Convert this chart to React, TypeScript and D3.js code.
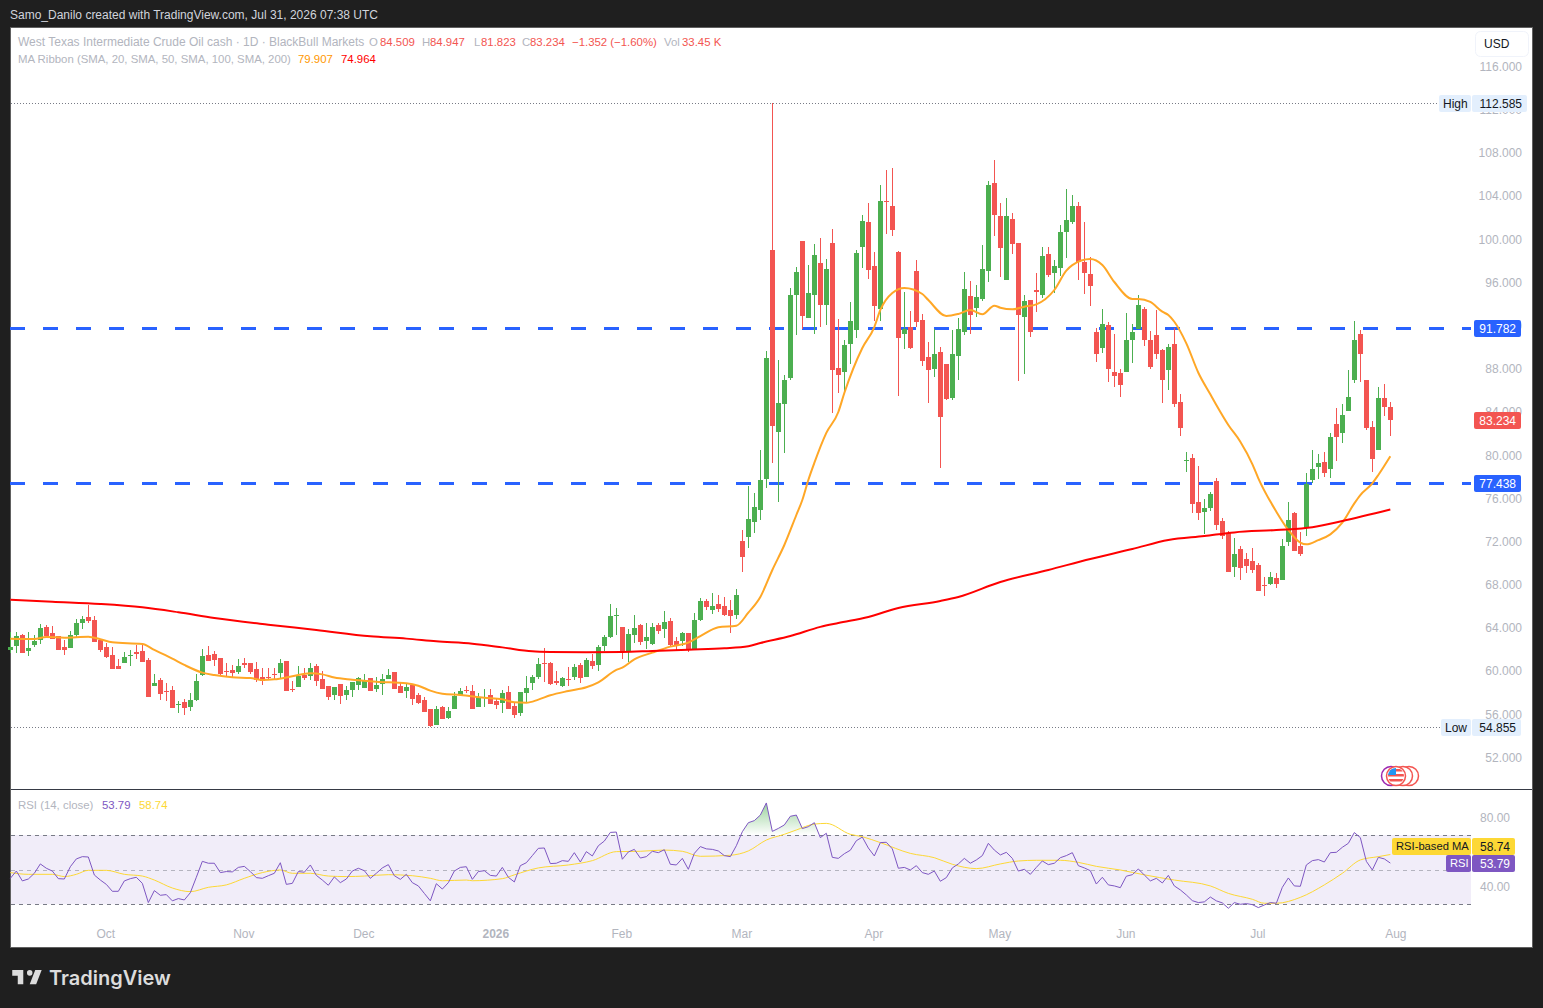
import React, { useRef, useEffect } from 'react';
import * as d3 from 'd3';

type Ohlc = [number, number, number, number];

// open, high, low, close per month
const candlesSep: Ohlc[] = [
  [61.96,63.66,61.65,62.24],[62.33,63.66,61.71,63.25],[63.35,63.44,61.68,61.71],[61.87,63.63,61.43,62.14],
  [62.42,63.35,62.27,62.79],[62.88,64.37,62.51,64.00],[64.09,64.27,63.19,63.25],[63.53,64.18,62.98,62.98],
  [63.25,63.25,61.96,61.96],[62.24,62.88,61.50,61.96],[62.14,63.72,62.14,63.35],[63.35,64.83,63.16,64.46],
  [64.46,65.11,63.90,64.83],[65.01,66.13,64.46,64.64],[64.74,65.11,62.70,62.70],[62.88,62.98,61.77,61.96],
];
const candlesOct: Ohlc[] = [
  [62.24,62.61,61.22,61.31],[61.50,62.24,60.20,60.20],[60.48,61.12,60.20,60.20],[60.75,61.77,60.75,61.31],
  [61.43,61.96,60.48,61.50],[61.77,62.42,61.12,61.59],[61.87,62.42,60.85,60.85],[61.03,61.22,57.60,57.60],
  [58.62,59.74,58.62,58.90],[59.18,59.36,57.33,57.88],[58.16,58.90,57.23,58.10],[58.25,58.62,56.59,56.59],
  [56.89,57.23,56.12,56.96],[57.14,57.42,55.94,56.59],[56.68,57.97,56.31,57.33],[57.33,59.74,57.23,59.09],
  [59.64,62.05,59.55,61.40],[61.50,62.33,60.94,60.94],[61.59,61.87,60.48,61.03],[61.22,61.22,59.55,59.74],
  [60.01,60.75,59.46,59.95],[60.11,60.57,59.46,59.83],[59.92,61.12,59.74,60.48],
];
const candlesNov: Ohlc[] = [
  [60.75,61.22,60.29,60.57],[60.75,60.75,59.74,59.92],[60.20,60.85,58.99,59.18],[59.46,60.29,58.72,59.09],
  [59.46,60.29,59.18,59.40],[59.74,60.29,59.27,59.67],[59.83,61.12,59.36,60.75],[60.94,60.94,58.16,58.16],
  [58.35,59.09,58.07,58.28],[58.53,60.48,58.53,59.55],[59.64,60.29,59.18,59.36],[59.55,60.75,59.18,60.29],
  [60.48,60.66,58.62,59.09],[59.27,60.01,58.35,58.35],[58.62,58.62,57.33,57.60],[57.79,58.53,57.33,58.53],
  [58.81,58.81,56.96,57.70],[57.79,58.62,57.33,58.25],[58.25,58.99,57.60,58.99],[58.72,59.46,58.25,59.36],
];
const candlesDec: Ohlc[] = [
  [58.44,59.74,58.44,59.18],[59.36,59.36,58.16,58.16],[58.35,59.46,58.07,58.72],[58.81,59.74,57.79,59.27],
  [59.27,60.20,59.27,59.64],[59.92,59.92,58.35,58.35],[58.62,58.90,57.97,57.97],[58.16,58.81,57.51,58.53],
  [58.72,58.72,56.86,57.42],[57.79,57.97,56.96,57.05],[57.33,57.60,56.22,56.22],[56.49,56.49,54.855,54.90],
  [55.01,56.77,55.01,56.49],[56.68,56.77,55.57,55.57],[55.66,56.68,55.57,56.31],[56.49,58.07,56.49,57.70],
  [57.76,58.44,57.70,58.16],[58.25,58.62,57.97,58.19],[58.16,58.72,56.49,56.49],[56.68,57.97,56.68,57.51],
  [57.51,58.35,56.68,57.57],[57.79,58.35,56.96,56.96],
];
const candlesJan: Ohlc[] = [
  [57.23,57.51,56.49,56.86],[57.05,58.25,56.12,57.97],[58.07,58.62,56.49,56.49],[56.77,57.14,55.66,55.94],
  [56.12,58.07,55.84,58.07],[57.97,59.55,57.14,58.44],[58.90,59.64,58.25,59.46],[59.46,61.22,59.27,60.66],
  [60.79,62.14,58.99,60.72],[60.75,60.85,58.72,58.81],[59.09,60.01,58.72,58.90],[58.62,59.46,58.53,59.36],
  [59.27,60.38,58.62,59.21],[59.46,60.66,59.18,60.38],[60.57,60.75,58.90,59.36],[59.46,61.22,59.46,61.03],
  [60.94,61.59,60.20,60.48],[60.57,62.42,60.01,62.24],[62.33,63.35,61.87,63.16],[63.16,66.22,63.07,65.11],
  [65.14,65.85,63.35,65.20],
];
const candlesFeb: Ohlc[] = [
  [64.09,64.09,61.12,61.87],[61.87,63.90,60.85,63.44],[63.35,65.20,62.61,64.00],[64.27,64.37,62.42,62.70],
  [62.79,64.46,62.05,63.16],[62.51,64.46,62.42,64.09],[64.27,64.46,63.44,63.72],[63.90,65.57,63.07,64.55],
  [64.64,64.92,62.24,62.42],[62.79,63.16,61.96,62.42],[62.79,63.63,62.33,63.53],[63.53,63.53,61.77,61.96],
  [62.05,65.39,61.96,64.74],[64.74,66.77,64.64,66.50],[66.50,66.68,65.66,65.94],[65.66,67.24,65.29,66.03],
  [66.22,67.05,65.48,65.76],[66.03,66.87,65.11,65.20],[65.66,66.59,63.53,65.11],[65.20,67.61,64.83,67.05],
];
const candlesMar: Ohlc[] = [
  [72.05,73.07,69.18,70.57],[72.42,77.15,71.40,74.09],[73.81,76.50,72.79,75.20],[74.92,80.48,74.00,77.70],
  [77.79,89.65,76.96,89.00],[99.00,112.585,79.27,82.70],[82.15,88.82,75.66,84.83],[84.74,87.43,80.20,86.96],
  [87.15,95.48,86.96,94.84],[94.84,97.43,91.13,96.97],[99.84,99.84,91.69,92.89],[92.70,97.61,92.70,95.02],
  [94.84,99.56,91.22,98.54],[97.79,100.12,91.87,93.91],[93.91,98.17,92.06,97.24],[99.65,100.95,83.91,87.89],
  [88.07,92.61,85.76,87.43],[87.70,90.67,85.76,90.20],[90.30,94.19,88.45,92.43],[91.59,99.00,90.85,98.72],
  [99.28,102.25,97.34,101.69],[101.60,103.36,96.32,97.15],
];
const candlesApr: Ohlc[] = [
  [97.52,98.82,92.43,93.82],[93.54,105.02,92.43,103.54],[103.54,106.41,100.48,103.48],[103.08,106.60,100.30,100.86],
  [98.82,98.91,85.48,90.85],[91.22,95.11,89.83,91.69],[91.87,93.35,89.83,89.93],[97.06,98.08,91.87,92.33],
  [92.52,93.08,88.26,88.72],[89.09,90.48,84.83,87.89],[87.98,91.69,87.24,89.37],[89.56,90.02,78.81,83.53],
  [88.45,88.45,85.11,85.20],[85.30,91.59,85.11,89.37],[89.19,92.70,86.96,91.69],[91.41,96.97,91.13,95.39],
  [94.74,96.13,91.22,92.98],[93.63,95.76,92.80,94.65],[94.47,99.47,94.28,97.24],[97.06,105.39,96.04,105.02],
  [105.21,107.34,100.30,102.25],
];
const candlesMay: Ohlc[] = [
  [102.15,103.36,96.50,99.19],[96.23,103.82,96.23,102.15],[101.87,102.43,98.63,99.56],[99.65,99.65,86.87,92.98],
  [92.80,94.84,87.52,94.28],[94.37,94.37,90.95,91.41],[95.30,96.87,93.26,95.11],[94.84,99.28,94.56,98.45],
  [98.63,99.28,96.50,96.69],[96.87,98.08,95.02,97.52],[97.34,101.32,96.60,100.67],[100.67,104.65,98.26,101.78],
  [101.60,104.10,101.41,103.08],[103.08,103.45,96.23,97.89],[97.89,101.60,94.93,96.87],[96.78,98.36,93.82,95.67],
  [91.41,91.78,88.63,89.37],[89.93,93.54,89.47,92.15],[92.06,92.33,86.78,87.98],[87.70,91.22,86.31,87.33],
  [87.61,87.98,85.39,86.50],
];
const candlesJun: Ohlc[] = [
  [87.70,93.17,87.70,90.67],[90.67,92.15,88.54,91.41],[91.69,94.84,91.69,93.91],[93.54,93.72,90.11,90.67],
  [90.67,91.50,87.98,88.17],[91.13,93.45,88.91,89.37],[89.74,89.83,84.83,86.96],[87.89,90.30,86.03,90.02],
  [90.30,91.78,84.46,84.74],[84.92,85.67,81.78,82.52],[79.49,80.30,78.44,79.55],[79.74,80.11,74.65,75.48],
  [75.66,79.00,74.00,74.65],[74.74,75.94,72.70,75.11],[75.11,76.59,74.83,76.41],[77.61,77.89,73.07,73.53],
  [73.90,74.18,72.24,72.51],[72.79,72.98,69.18,69.18],[69.64,72.33,68.72,70.85],[71.31,71.59,68.44,69.55],
  [70.38,70.94,69.09,69.74],[70.20,71.40,69.09,69.37],
];
const candlesJul: Ohlc[] = [
  [69.83,70.02,67.42,67.42],[67.97,68.72,66.96,67.91],[68.07,69.18,67.97,68.72],[68.62,69.09,67.70,68.07],
  [68.44,72.24,68.44,71.59],[71.96,75.66,71.59,74.00],[74.65,74.74,71.12,71.12],[71.59,72.89,70.66,70.85],
  [73.26,78.35,72.51,77.33],[77.70,80.48,77.42,78.72],[78.91,80.11,77.80,79.28],[79.37,80.30,77.98,78.35],
  [78.72,82.06,77.89,81.68],[82.89,84.37,79.46,81.68],[82.06,84.74,81.13,83.72],[84.09,87.89,84.09,85.39],
  [86.97,92.43,86.69,90.67],[91.22,91.60,86.78,89.37],[86.97,86.97,82.33,82.52],[82.61,83.17,78.44,79.65],
  [80.48,86.32,80.48,85.30],[85.30,86.59,83.63,84.46],[84.509,84.947,81.823,83.234],
];
const candles: Ohlc[] = [...candlesSep, ...candlesOct, ...candlesNov, ...candlesDec, ...candlesJan, ...candlesFeb,
  ...candlesMar, ...candlesApr, ...candlesMay, ...candlesJun, ...candlesJul];

// bar number, price
const ma50: [number, number][] = [
  [0,63.0],[4,62.97],[6,63.16],[9,63.10],[13,63.19],[15,62.95],[17,62.67],[22,62.51],[24,61.96],[27,61.15],[29,60.57],
  [32,59.86],[34,59.64],[37,59.43],[40,59.36],[42,59.18],[44,59.24],[47,59.52],[50,59.80],[52,59.70],[54,59.40],[57,59.21],
  [61,59.02],[66,58.87],[68,58.65],[70,58.19],[72,57.91],[75,57.79],[79,57.54],[82,57.39],[84,57.11],[86,57.08],[88,57.36],
  [90,57.76],[93,58.16],[96,58.50],[98,58.96],[101,60.11],[102,60.32],[104,61.09],[107,61.71],[110,62.27],[113,62.64],
  [115,63.25],[118,64.06],[121,64.21],[123,65.42],[125,66.87],[127,69.37],[129,71.68],[131,74.46],[132,75.85],[133,77.70],
  [134,79.28],[136,82.06],[138,84.00],[139,85.76],[142,89.93],[144,91.87],[145,93.45],[147,95.03],[149,95.49],[152,94.93],
  [153,94.37],[156,92.89],[158,93.08],[160,93.45],[162,93.05],[164,93.85],[165,93.66],[167,93.51],[169,93.75],[171,93.97],
  [174,95.30],[176,97.09],[177,97.61],[180,98.17],[182,97.61],[184,96.04],[187,94.47],[188,94.47],[190,94.19],[192,93.29],
  [193,92.98],[194,92.36],[196,90.36],[198,87.64],[200,85.64],[201,84.65],[203,82.80],[205,81.25],[207,79.18],[208,77.86],
  [211,74.77],[213,73.07],[215,71.90],[216,71.74],[218,72.14],[220,72.67],[222,73.75],[224,75.54],[225,76.31],[227,77.39],
  [228,78.17],[230,79.907],
];
const ma200: [number, number][] = [
  [0,66.62],[7,66.43],[15,66.22],[22,65.91],[28,65.45],[34,64.92],[43,64.30],[51,63.81],[60,63.22],[66,63.01],[71,62.76],
  [77,62.54],[82,62.20],[87,61.83],[90,61.77],[96,61.74],[102,61.77],[107,61.87],[113,61.99],[119,62.11],[123,62.30],
  [125,62.60],[130,63.25],[135,64.10],[138,64.46],[143,65.02],[148,65.85],[155,66.50],[158,66.87],[165,68.26],[173,69.37],
  [180,70.39],[187,71.31],[193,72.14],[199,72.51],[204,72.85],[211,73.07],[217,73.32],[222,73.90],[230,74.964],
];

const levels = [91.782, 77.438];
const priceTicks = [116, 112, 108, 104, 100, 96, 92, 88, 84, 80, 76, 72, 68, 64, 60, 56, 52];
const monthTicks = [16, 39, 59, 81, 102, 122, 144, 165, 186, 208, 231];
const monthLabels = ['Oct', 'Nov', 'Dec', '2026', 'Feb', 'Mar', 'Apr', 'May', 'Jun', 'Jul', 'Aug'];

const rsi = [
  45.0,49.2,43.5,44.6,47.9,53.3,50.8,49.2,44.8,44.6,51.7,56.2,57.5,57.3,46.9,44.0,41.5,37.5,37.5,43.5,44.8,45.6,42.1,31.0,
  37.9,35.2,35.6,32.0,33.3,32.5,36.7,45.6,54.8,53.7,53.7,48.3,48.9,48.7,51.3,51.9,48.9,45.4,45.0,46.5,47.9,54.0,41.5,42.1,
  48.9,48.5,52.7,46.7,44.0,41.0,45.8,42.5,44.6,49.2,50.8,49.4,45.0,47.9,51.0,52.9,46.5,44.4,47.3,42.5,40.6,36.3,32.0,41.9,
  38.8,42.5,49.2,51.3,51.7,44.4,48.9,49.4,46.7,46.3,51.3,45.6,42.9,52.3,54.0,58.1,62.3,62.5,53.5,53.7,55.2,54.8,59.8,54.4,
  60.4,57.9,63.8,66.5,71.5,71.7,56.0,60.2,61.7,56.7,57.5,60.6,59.8,61.5,53.1,52.7,56.5,50.2,59.4,63.3,62.0,61.7,60.8,58.1,
  57.5,63.8,71.9,77.1,78.3,81.5,88.5,72.1,73.8,75.8,80.8,81.5,73.7,74.8,77.1,68.5,71.0,57.1,56.5,59.2,61.2,66.7,68.8,62.5,
  57.9,65.6,65.8,62.0,50.8,51.3,49.8,52.3,48.3,47.3,49.2,43.3,45.4,51.0,53.3,56.5,53.7,55.6,58.1,65.2,61.3,58.5,60.0,56.5,
  49.2,50.2,47.3,51.3,55.0,52.9,53.7,56.9,58.1,59.8,52.3,51.0,49.4,41.7,45.6,41.2,40.6,39.6,46.2,47.1,50.4,46.9,43.5,45.0,
  42.3,46.7,40.6,38.3,35.4,32.1,31.0,31.4,34.2,32.0,30.8,27.7,31.0,30.0,30.4,29.8,28.1,29.6,31.0,30.6,39.8,45.2,40.6,40.4,
  52.7,55.2,55.8,54.4,59.8,60.0,62.9,65.2,71.4,68.5,54.8,49.8,57.1,56.2,53.79,
];
const rsiMa: [number, number][] = [
  [0,48.3],[3,47.3],[7,47.3],[9,46.0],[11,47.3],[13,49.6],[16,49.6],[19,47.3],[22,46.3],[24,44.0],[27,39.4],[30,37.3],
  [33,39.8],[36,41.2],[39,45.0],[42,48.3],[45,49.8],[47,47.9],[50,47.9],[53,46.3],[56,46.0],[59,46.3],[63,47.1],[67,46.5],
  [70,45.0],[72,43.6],[76,44.0],[77,43.6],[82,44.8],[84,47.0],[88,51.0],[93,52.7],[97,55.2],[101,60.4],[105,60.6],[109,61.3],
  [112,60.6],[115,57.7],[120,58.3],[123,60.8],[126,67.1],[129,70.4],[131,72.9],[134,76.3],[136,76.7],[140,70.4],[142,69.0],
  [145,65.6],[150,59.4],[154,56.9],[157,53.1],[161,50.6],[165,53.3],[168,55.0],[171,55.4],[175,55.4],[178,54.2],[181,51.9],
  [185,49.8],[189,47.0],[194,44.0],[200,40.6],[203,36.3],[207,32.9],[209,30.6],[211,30.6],[215,34.0],[219,41.2],[222,47.9],
  [225,55.6],[228,57.5],[230,58.74],
];
const rsiTicks = [80, 40];
const rsiBands = [70, 50, 30];

const RED = '#f35551';
const GREEN = '#4caf50';
const BLUE = '#2962ff';
const GREY = '#b2b5be';
const FONT = '"Liberation Sans", Arial, sans-serif';

const legendRows: [string, number, number, string, number][] = [
  ['Samo_Danilo created with TradingView.com, Jul 31, 2026 07:38 UTC', 10, 15, '#d1d4dc', 12],
  ['West Texas Intermediate Crude Oil cash · 1D · BlackBull Markets', 18, 42, GREY, 12],
  ['O', 369, 42, GREY, 11.4], ['84.509', 380, 42, RED, 11.4],
  ['H', 422, 42, GREY, 11.4], ['84.947', 430, 42, RED, 11.4],
  ['L', 474, 42, GREY, 11.4], ['81.823', 481, 42, RED, 11.4],
  ['C', 522, 42, GREY, 11.4], ['83.234', 530, 42, RED, 11.4],
  ['−1.352 (−1.60%)', 572, 42, RED, 11.4],
  ['Vol', 664, 42, GREY, 11.4], ['33.45 K', 682, 42, RED, 11.4],
  ['MA Ribbon (SMA, 20, SMA, 50, SMA, 100, SMA, 200)', 18, 59, GREY, 11.4],
  ['79.907', 298, 59, '#ff9800', 11.4], ['74.964', 341, 59, '#ff0000', 11.4],
  ['RSI (14, close)', 18, 805, GREY, 11.4],
  ['53.79', 102, 805, '#7e57c2', 11.4], ['58.74', 139, 805, '#fdd835', 11.4],
];

export default function App() {
  const ref = useRef<SVGSVGElement | null>(null);

  useEffect(() => {
    if (!ref.current) return;
    const svg = d3.select(ref.current);
    svg.selectAll('*').remove();

    const x = d3.scaleLinear().domain([0, 230]).range([10.33, 1390.33]);
    const y = d3.scaleLinear().domain([116, 52]).range([66.5, 757.5]);
    const yRsi = d3.scaleLinear().domain([70, 30]).range([835, 904.3]);
    const plotRight = 1471;

    svg.append('rect').attr('width', 1543).attr('height', 1008).attr('fill', '#1f1f1f');
    svg.append('rect').attr('x', 10.5).attr('y', 27.5).attr('width', 1522).attr('height', 920)
      .attr('fill', '#fff').attr('stroke', '#606060');

    // pane divider
    svg.append('rect').attr('x', 11).attr('y', 789).attr('width', 1521).attr('height', 1).attr('fill', '#363a45');

    // price axis
    const axisPrice = svg.append('g').attr('transform', 'translate(1522,0)')
      .call(d3.axisLeft(y).tickValues(priceTicks).tickFormat(d3.format('.3f') as any).tickSize(0).tickPadding(0));
    axisPrice.select('.domain').remove();

    // high / low dotted lines
    [112.585, 54.855].forEach(v => {
      svg.append('line').attr('x1', 11).attr('x2', 1440).attr('y1', Math.round(y(v)) + 0.5).attr('y2', Math.round(y(v)) + 0.5)
        .attr('stroke', '#787b86').attr('stroke-dasharray', '1 2');
    });

    // key levels
    svg.selectAll('.level').data(levels).enter().append('line')
      .attr('x1', 10).attr('x2', plotRight)
      .attr('y1', d => Math.round(y(d)) + 0.5).attr('y2', d => Math.round(y(d)) + 0.5)
      .attr('stroke', BLUE).attr('stroke-width', 3).attr('stroke-dasharray', '15 18');

    // candles
    const colour = (d: Ohlc) => (d[3] >= d[0] ? GREEN : RED);
    const bars = svg.append('g');
    bars.selectAll('.wick').data(candles).enter().append('rect')
      .attr('x', (_, i) => Math.floor(x(i))).attr('width', 1)
      .attr('y', d => Math.round(y(d[1])))
      .attr('height', d => Math.max(1, Math.round(y(d[2])) - Math.round(y(d[1]))))
      .attr('fill', colour);
    bars.selectAll('.body').data(candles).enter().append('rect')
      .attr('x', (_, i) => Math.floor(x(i)) - 2).attr('width', 5)
      .attr('y', d => Math.round(y(Math.max(d[0], d[3]))))
      .attr('height', d => Math.max(1, Math.round(y(Math.min(d[0], d[3]))) - Math.round(y(Math.max(d[0], d[3])))))
      .attr('fill', colour);

    // moving averages
    const maLine = d3.line<[number, number]>().x(d => x(d[0])).y(d => y(d[1])).curve(d3.curveMonotoneX);
    svg.append('path').attr('d', maLine(ma50)).attr('fill', 'none').attr('stroke', '#ffa726').attr('stroke-width', 2);
    svg.append('path').attr('d', maLine(ma200)).attr('fill', 'none').attr('stroke', '#ff0000').attr('stroke-width', 2);

    // RSI pane
    svg.append('rect').attr('x', 11).attr('width', plotRight - 11)
      .attr('y', yRsi(70)).attr('height', yRsi(30) - yRsi(70)).attr('fill', '#f1edf9');
    const defs = svg.append('defs');
    const grad = defs.append('linearGradient').attr('id', 'rsiOver').attr('gradientUnits', 'userSpaceOnUse')
      .attr('x1', 0).attr('x2', 0).attr('y1', yRsi(88)).attr('y2', yRsi(70));
    grad.append('stop').attr('offset', 0).attr('stop-color', GREEN).attr('stop-opacity', 0.55);
    grad.append('stop').attr('offset', 1).attr('stop-color', GREEN).attr('stop-opacity', 0);
    defs.append('clipPath').attr('id', 'rsiOverClip').append('rect')
      .attr('x', 0).attr('y', 790).attr('width', 1543).attr('height', yRsi(70) - 790);
    const over = d3.area<number>().x((_, i) => x(i)).y0(yRsi(70)).y1(d => yRsi(d));
    svg.append('path').attr('d', over(rsi)).attr('fill', 'url(#rsiOver)').attr('clip-path', 'url(#rsiOverClip)');

    svg.selectAll('.band').data(rsiBands).enter().append('line')
      .attr('x1', 11).attr('x2', plotRight)
      .attr('y1', d => Math.round(yRsi(d)) + 0.5).attr('y2', d => Math.round(yRsi(d)) + 0.5)
      .attr('stroke', '#787b86').attr('stroke-opacity', d => (d === 50 ? 0.5 : 1)).attr('stroke-dasharray', '4 4');

    const rsiLine = d3.line<number>().x((_, i) => x(i)).y(d => yRsi(d));
    const rsiMaLine = d3.line<[number, number]>().x(d => x(d[0])).y(d => yRsi(d[1])).curve(d3.curveMonotoneX);
    svg.append('path').attr('d', rsiMaLine(rsiMa)).attr('fill', 'none').attr('stroke', '#fdd835');
    svg.append('path').attr('d', rsiLine(rsi)).attr('fill', 'none').attr('stroke', '#7e57c2');

    const axisRsi = svg.append('g').attr('transform', 'translate(1510,0)')
      .call(d3.axisLeft(yRsi).tickValues(rsiTicks).tickFormat(d3.format('.2f') as any).tickSize(0).tickPadding(0));
    axisRsi.select('.domain').remove();

    // time axis
    const axisTime = svg.append('g').attr('transform', 'translate(-1,929)')
      .call(d3.axisBottom(x).tickValues(monthTicks).tickFormat((_, i) => monthLabels[i]).tickSize(0).tickPadding(0));
    axisTime.select('.domain').remove();
    axisTime.selectAll('text').filter(d => d === 81).attr('font-weight', 'bold');

    svg.selectAll('g text').attr('font-family', FONT).attr('font-size', 12).attr('fill', GREY);

    // legends and header
    svg.selectAll('.legend').data(legendRows).enter().append('text')
      .attr('x', d => d[1]).attr('y', d => d[2]).attr('dy', '.35em')
      .attr('font-family', FONT).attr('font-size', d => d[4]).attr('fill', d => d[3]).text(d => d[0]);

    // axis tags
    const tag = (x0: number, x1: number, y0: number, y1: number, bg: string, fg: string, label: string, anchorX: number, anchor = 'end', size = 12) => {
      svg.append('rect').attr('x', x0).attr('y', y0).attr('width', x1 - x0).attr('height', y1 - y0).attr('rx', 2).attr('fill', bg);
      svg.append('text').attr('x', anchorX).attr('y', (y0 + y1) / 2).attr('dy', '.35em').attr('text-anchor', anchor)
        .attr('font-family', FONT).attr('font-size', size).attr('fill', fg).text(label);
    };
    const HL = '#e3effd';
    tag(1439, 1471, 95, 112, HL, '#131722', 'High', 1443, 'start');
    tag(1472, 1527, 95, 112, HL, '#131722', '112.585', 1522);
    tag(1441, 1471, 719, 736, HL, '#131722', 'Low', 1445, 'start');
    tag(1472, 1521, 719, 736, HL, '#131722', '54.855', 1516);
    levels.forEach(v => {
      tag(1474, 1521, Math.round(y(v)) - 8, Math.round(y(v)) + 9, BLUE, '#fff', d3.format('.3f')(v), 1516);
    });
    tag(1474, 1521, Math.round(y(83.234)) - 8, Math.round(y(83.234)) + 9, RED, '#fff', '83.234', 1516);
    tag(1392, 1471, 838, 855, '#fdd835', '#131722', 'RSI-based MA', 1396, 'start', 11.2);
    tag(1472, 1515, 838, 855, '#fdd835', '#131722', '58.74', 1510);
    tag(1446, 1471, 855, 872, '#7e57c2', '#fff', 'RSI', 1450, 'start', 11.2);
    tag(1472, 1515, 855, 872, '#7e57c2', '#fff', '53.79', 1510);

    // currency box
    svg.append('rect').attr('x', 1475.5).attr('y', 31.5).attr('width', 53).attr('height', 25).attr('rx', 5)
      .attr('fill', '#fff').attr('stroke', '#f0f3fa');
    svg.append('text').attr('x', 1484).attr('y', 44).attr('dy', '.35em').attr('font-family', FONT)
      .attr('font-size', 12).attr('fill', '#131722').text('USD');

    // economic events flags
    const flags = svg.append('g');
    [[1409, RED], [1403, RED], [1391, '#9c27b0']].forEach(([cx, c]) => {
      flags.append('circle').attr('cx', cx as number).attr('cy', 776).attr('r', 9.5)
        .attr('fill', '#fff').attr('stroke', c as string).attr('stroke-width', 1.5);
    });
    flags.append('circle').attr('cx', 1396).attr('cy', 776).attr('r', 9.5).attr('fill', '#fff').attr('stroke', RED).attr('stroke-width', 1.5);
    defs.append('clipPath').attr('id', 'flagClip').append('circle').attr('cx', 1396).attr('cy', 776).attr('r', 8);
    const flag = flags.append('g').attr('clip-path', 'url(#flagClip)');
    [769, 774, 779].forEach(sy => flag.append('rect').attr('x', 1388).attr('y', sy).attr('width', 16).attr('height', 2.5).attr('fill', RED));
    flag.append('rect').attr('x', 1388).attr('y', 768).attr('width', 8).attr('height', 7).attr('fill', '#2196f3');

    // logo
    svg.append('path').attr('transform', 'translate(10.4,964.3) scale(0.92,0.95)')
      .attr('d', 'M14 6H2v6h6v9h6V6zm14 15h-7l6-15h7l-6 15zm-7-9a3 3 0 1 0 0-6 3 3 0 0 0 0 6z').attr('fill', '#dcdcdc');
    svg.append('text').attr('x', 49).attr('y', 985).attr('font-family', 'Inter, sans-serif').attr('font-weight', 600)
      .attr('font-size', 20).attr('fill', '#dcdcdc').text('TradingView');
  }, []);

  return <svg ref={ref} width={1543} height={1008} style={{ position: 'absolute', left: 0, top: 0, display: 'block' }} />;
}
